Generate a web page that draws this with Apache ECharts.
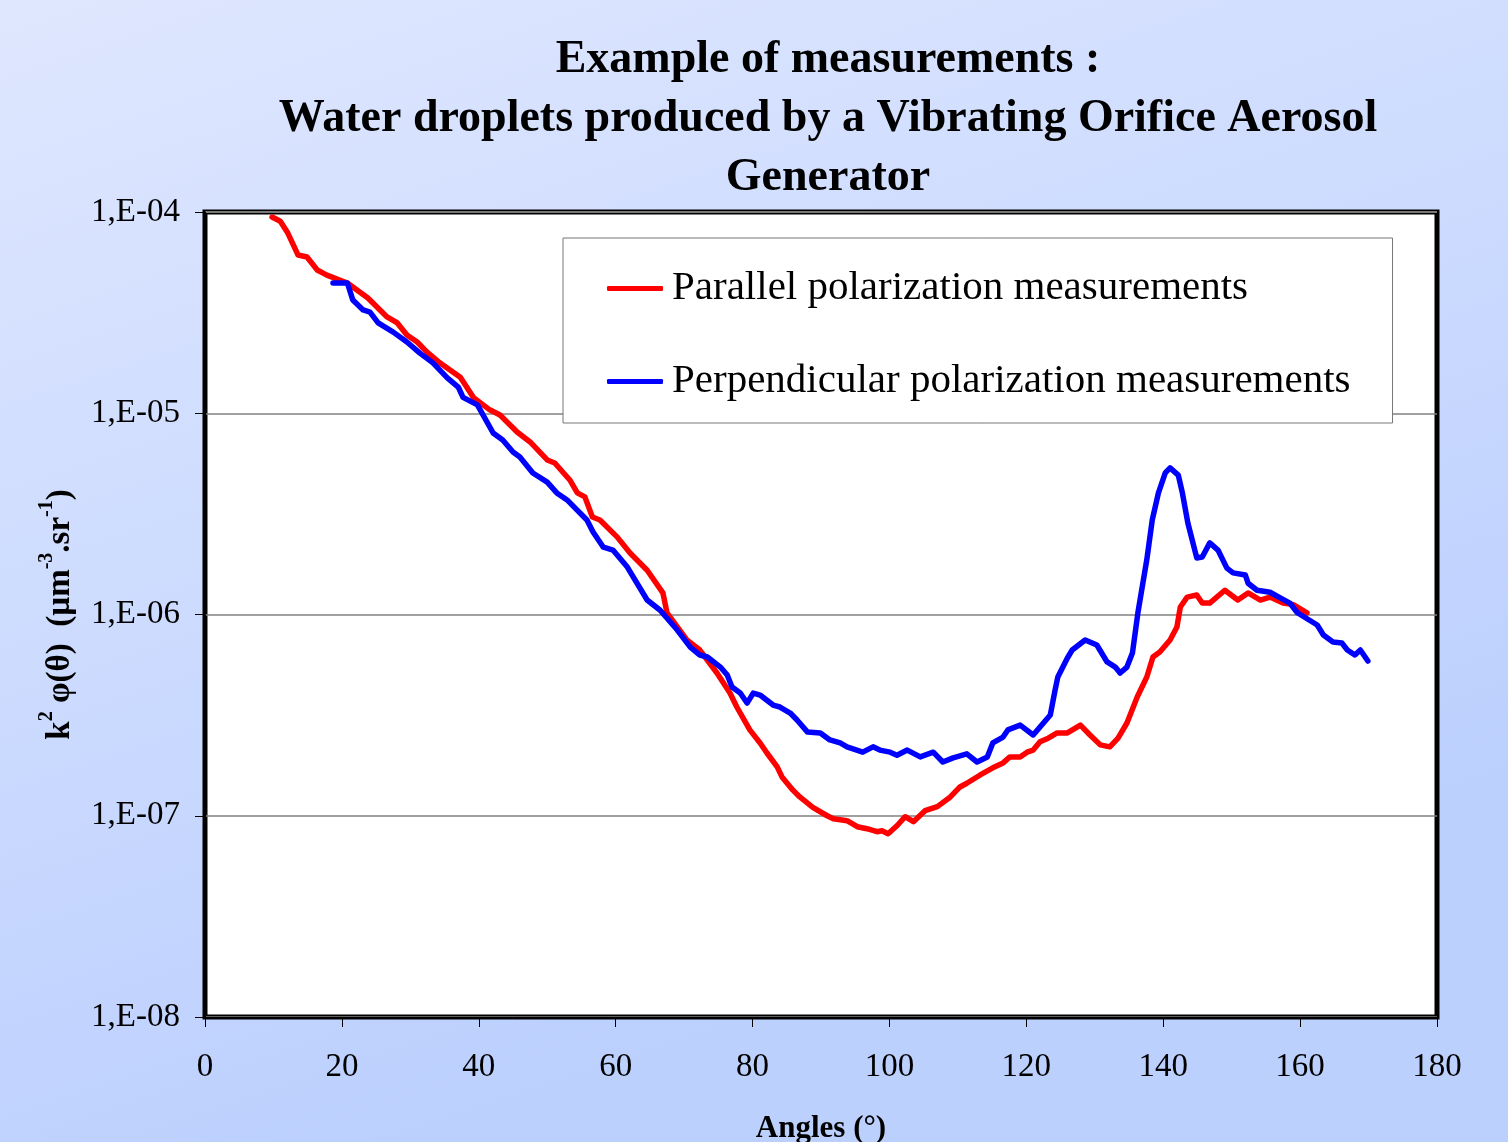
<!DOCTYPE html>
<html>
<head>
<meta charset="utf-8">
<title>Example of measurements</title>
<script src="https://cdn.jsdelivr.net/npm/echarts@6/dist/echarts.min.js"></script>
<style>
    html, body { margin: 0; padding: 0; }
    #chart { width: 1508px; height: 1142px; }
</style>
</head>
<body>
<div id="chart"></div>
<script>
// 平行偏振 - 角度 (°) 与 k² φ(θ)
var parAngles = [9.8, 11.0, 12.1, 13.6, 14.9, 16.4, 17.8, 20.8, 23.8, 26.6, 28.1, 29.5, 31.0, 32.4, 34.3, 37.3, 39.2, 41.6, 43.1, 45.6,
    47.5, 50.0, 51.1, 53.3, 54.4, 55.5, 56.6, 57.7, 60.2, 62.1, 64.6, 66.9, 67.5, 70.4, 72.3, 74.8, 76.7, 77.7, 79.6, 81.1,
    82.1, 83.6, 84.3, 85.9, 86.9, 88.8, 90.9, 91.8, 93.8, 95.3, 96.7, 98.2, 98.9, 99.8, 101.1, 102.3, 103.5, 105.2, 107.0, 108.9,
    110.3, 111.3, 113.2, 115.1, 116.6, 117.6, 119.1, 120.1, 121.0, 122.0, 123.2, 124.5, 126.0, 127.9, 129.3, 130.8, 132.2, 133.4, 134.7, 136.2,
    137.6, 138.5, 139.5, 141.0, 142.0, 142.5, 143.5, 144.9, 145.7, 146.8, 149.0, 150.9, 152.4, 154.2, 155.6, 157.5, 159.0, 161.0];
var parValues = [9.44e-5, 9.0e-5, 7.86e-5, 6.11e-5, 5.98e-5, 5.15e-5, 4.86e-5, 4.44e-5, 3.74e-5, 3.01e-5, 2.81e-5, 2.45e-5, 2.26e-5, 2.02e-5, 1.78e-5, 1.51e-5, 1.20e-5, 1.04e-5, 9.80e-6, 8.07e-6,
    7.20e-6, 5.86e-6, 5.66e-6, 4.66e-6, 4.02e-6, 3.84e-6, 3.05e-6, 2.95e-6, 2.43e-6, 2.02e-6, 1.66e-6, 1.28e-6, 1.02e-6, 7.47e-7, 6.66e-7, 5.12e-7, 4.07e-7, 3.47e-7, 2.67e-7, 2.30e-7,
    2.05e-7, 1.75e-7, 1.56e-7, 1.34e-7, 1.24e-7, 1.10e-7, 1.00e-7, 9.66e-8, 9.45e-8, 8.82e-8, 8.62e-8, 8.33e-8, 8.42e-8, 8.14e-8, 8.92e-8, 9.89e-8, 9.34e-8, 1.06e-7, 1.11e-7, 1.24e-7,
    1.39e-7, 1.45e-7, 1.59e-7, 1.73e-7, 1.83e-7, 1.96e-7, 1.96e-7, 2.07e-7, 2.12e-7, 2.33e-7, 2.43e-7, 2.58e-7, 2.58e-7, 2.82e-7, 2.52e-7, 2.25e-7, 2.20e-7, 2.43e-7, 2.89e-7, 3.89e-7,
    4.89e-7, 6.15e-7, 6.51e-7, 7.47e-7, 8.67e-7, 1.09e-6, 1.22e-6, 1.25e-6, 1.14e-6, 1.14e-6, 1.32e-6, 1.18e-6, 1.28e-6, 1.18e-6, 1.22e-6, 1.14e-6, 1.12e-6, 1.02e-6];

// 垂直偏振
var perpAngles = [18.7, 20.8, 21.6, 23.1, 24.1, 25.3, 27.5, 29.5, 31.4, 33.3, 35.4, 37.0, 37.7, 39.8, 42.1, 43.5, 45.0, 46.0, 47.9, 50.0,
    51.4, 52.9, 55.8, 56.7, 58.2, 59.6, 61.7, 64.6, 66.5, 69.0, 70.9, 72.3, 73.4, 75.3, 76.3, 77.0, 78.2, 79.2, 80.1, 81.1,
    83.0, 84.0, 85.5, 86.5, 88.0, 89.9, 91.3, 92.8, 93.8, 96.1, 97.6, 98.6, 100.1, 101.1, 102.6, 104.5, 106.4, 107.8, 109.3, 111.3,
    112.8, 114.3, 115.1, 116.6, 117.3, 119.1, 121.0, 123.5, 124.2, 124.6, 126.0, 126.7, 128.6, 130.3, 131.8, 133.0, 133.7, 134.7, 135.5, 136.3,
    137.6, 138.4, 139.3, 140.3, 141.0, 142.2, 142.8, 143.6, 144.9, 145.7, 146.8, 148.0, 149.3, 150.2, 152.0, 152.4, 153.7, 155.6, 157.1, 158.5,
    159.6, 162.5, 163.4, 164.8, 166.1, 166.9, 168.0, 168.8, 169.9];
var perpValues = [4.44e-5, 4.44e-5, 3.65e-5, 3.26e-5, 3.18e-5, 2.81e-5, 2.53e-5, 2.26e-5, 1.99e-5, 1.78e-5, 1.50e-5, 1.35e-5, 1.20e-5, 1.10e-5, 7.98e-6, 7.36e-6, 6.42e-6, 6.06e-6, 5.05e-6, 4.55e-6,
    4.02e-6, 3.71e-6, 2.95e-6, 2.57e-6, 2.16e-6, 2.09e-6, 1.72e-6, 1.18e-6, 1.05e-6, 8.37e-7, 6.89e-7, 6.29e-7, 6.15e-7, 5.48e-7, 5.00e-7, 4.36e-7, 4.07e-7, 3.63e-7, 4.07e-7, 3.98e-7,
    3.55e-7, 3.47e-7, 3.24e-7, 2.99e-7, 2.61e-7, 2.58e-7, 2.38e-7, 2.30e-7, 2.20e-7, 2.07e-7, 2.20e-7, 2.12e-7, 2.07e-7, 2.00e-7, 2.12e-7, 1.96e-7, 2.07e-7, 1.85e-7, 1.94e-7, 2.03e-7,
    1.85e-7, 1.96e-7, 2.30e-7, 2.46e-7, 2.67e-7, 2.82e-7, 2.52e-7, 3.17e-7, 4.21e-7, 4.89e-7, 6.08e-7, 6.66e-7, 7.47e-7, 7.05e-7, 5.81e-7, 5.48e-7, 5.12e-7, 5.48e-7, 6.43e-7, 1.02e-6,
    1.87e-6, 2.95e-6, 4.02e-6, 5.05e-6, 5.35e-6, 4.93e-6, 4.02e-6, 2.85e-6, 1.91e-6, 1.93e-6, 2.27e-6, 2.09e-6, 1.70e-6, 1.61e-6, 1.57e-6, 1.43e-6, 1.32e-6, 1.29e-6, 1.21e-6, 1.14e-6,
    1.02e-6, 8.87e-7, 7.91e-7, 7.30e-7, 7.22e-7, 6.66e-7, 6.29e-7, 6.66e-7, 5.87e-7];

var seriesNames = ['Parallel polarization measurements', 'Perpendicular polarization measurements'];
var xTicks = [0, 180, 20]; // min, max, interval
var yRange = [1e-8, 1e-4];

// 组合成 [x, y] 数据
function pairs(xs, ys) {
    var arr = [];
    for (var i = 0; i < xs.length; i++) {
        arr.push([xs[i], ys[i]]);
    }
    return arr;
}

var serif = 'Liberation Serif';
var myChart = echarts.init(document.getElementById('chart'));

var option = {
    backgroundColor: {
        type: 'linear', x: 0, y: 0, x2: 0.25, y2: 1,
        colorStops: [
            { offset: 0, color: '#dfe7fe' },
            { offset: 1, color: '#bcd0fe' }
        ]
    },
    animation: false,
    title: {
        text: 'Example of measurements :\nWater droplets produced by a Vibrating Orifice Aerosol\nGenerator',
        left: 823,
        top: 26,
        textAlign: 'center',
        textStyle: {
            fontFamily: serif,
            fontWeight: 'bold',
            fontSize: 46,
            lineHeight: 59,
            color: '#000'
        }
    },
    grid: {
        show: true,
        left: 205,
        right: 71,
        top: 212,
        bottom: 125,
        containLabel: false,
        outerBoundsMode: 'none',
        backgroundColor: '#ffffff',
        borderColor: '#000000',
        borderWidth: 5
    },
    legend: {
        orient: 'vertical',
        left: 563,
        top: 238,
        padding: [30, 42, 21, 44],
        itemGap: 52,
        itemWidth: 56,
        itemHeight: 5,
        icon: 'roundRect',
        backgroundColor: '#ffffff',
        borderColor: '#777777',
        borderWidth: 1,
        textStyle: {
            fontFamily: serif,
            fontSize: 41,
            lineHeight: 41,
            color: '#000',
            padding: [0, 0, 0, 4]
        },
        data: seriesNames
    },
    xAxis: {
        type: 'value',
        min: xTicks[0],
        max: xTicks[1],
        interval: xTicks[2],
        name: 'Angles (°)',
        nameLocation: 'middle',
        nameGap: 96,
        nameTextStyle: {
            fontFamily: serif,
            fontWeight: 'bold',
            fontSize: 31,
            color: '#000'
        },
        axisLine: { lineStyle: { color: '#000', width: 1 } },
        axisTick: { show: true, inside: false, length: 10, lineStyle: { color: '#000' } },
        axisLabel: {
            margin: 34,
            fontFamily: serif,
            fontSize: 33,
            color: '#000'
        },
        splitLine: { show: false }
    },
    yAxis: {
        type: 'log',
        logBase: 10,
        min: yRange[0],
        max: yRange[1],
        name: '{a|k}{s|2}{a| φ(θ)  (µm}{s|-3}{a|.sr}{s|-1}{a|)}',
        nameLocation: 'middle',
        nameRotate: 90,
        nameGap: 128,
        nameTextStyle: {
            rich: {
                a: { fontFamily: serif, fontWeight: 'bold', fontSize: 33, color: '#000', lineHeight: 40, verticalAlign: 'bottom' },
                s: { fontFamily: serif, fontWeight: 'bold', fontSize: 20, color: '#000', lineHeight: 40, verticalAlign: 'top' }
            }
        },
        axisLine: { lineStyle: { color: '#000', width: 1 } },
        axisTick: { show: true, inside: false, length: 10, lineStyle: { color: '#000' } },
        axisLabel: {
            margin: 25,
            fontFamily: serif,
            fontSize: 33,
            color: '#000',
            formatter: function (v) {
                var e = Math.round(Math.log10(v));
                var s = String(Math.abs(e));
                if (s.length < 2) s = '0' + s;
                return '1,E' + (e < 0 ? '-' : '+') + s;
            }
        },
        splitLine: { show: true, lineStyle: { color: '#808080', width: 1.5 } }
    },
    series: [
        {
            name: seriesNames[0],
            type: 'line',
            data: pairs(parAngles, parValues),
            showSymbol: false,
            symbol: 'none',
            color: '#ff0000',
            lineStyle: { width: 5.5, color: '#ff0000', cap: 'round', join: 'round' }
        },
        {
            name: seriesNames[1],
            type: 'line',
            data: pairs(perpAngles, perpValues),
            showSymbol: false,
            symbol: 'none',
            color: '#0000ff',
            lineStyle: { width: 5.5, color: '#0000ff', cap: 'round', join: 'round' }
        }
    ]
};
myChart.setOption(option);
</script>
</body>
</html>
